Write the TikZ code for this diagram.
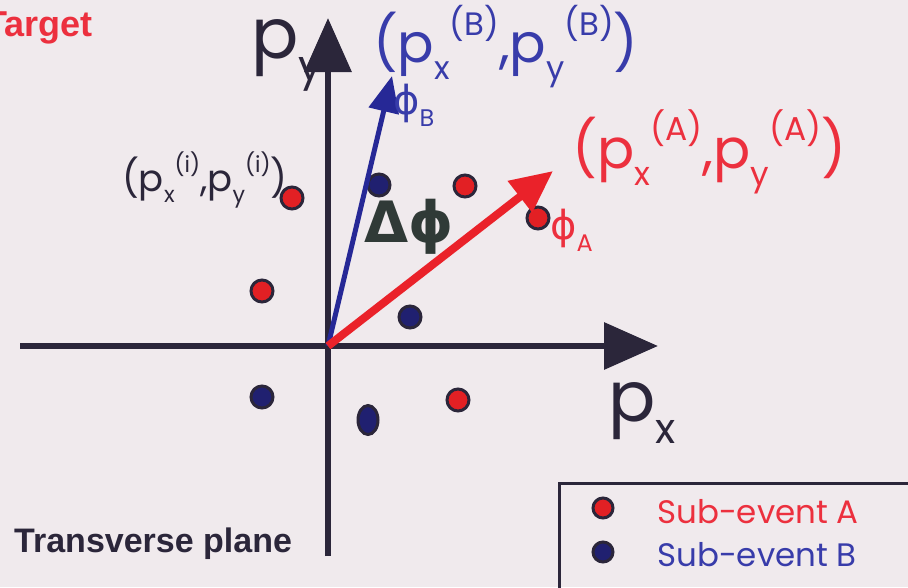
\documentclass[tikz,border=0pt]{standalone}
\usepackage{fontspec}
\setmainfont{Poppins}
\newfontfamily\grk{DejaVu Sans}
\newfontfamily\helv{Liberation Sans}
\usetikzlibrary{arrows.meta,shapes.geometric}
\definecolor{bg}{RGB}{240,234,237}
\definecolor{ink}{RGB}{43,38,58}
\definecolor{rd}{RGB}{234,34,42}
\definecolor{rdtxt}{RGB}{236,48,62}
\definecolor{bl}{RGB}{38,40,150}
\definecolor{bltxt}{RGB}{56,60,170}
\definecolor{dkgreen}{RGB}{48,58,55}
\definecolor{dotred}{RGB}{226,32,36}
\definecolor{dotblue}{RGB}{32,32,112}
\newcommand\lo[1]{\raisebox{-0.32em}{\scalebox{0.6}{#1}}}
\newcommand\hi[1]{\raisebox{0.5em}{\scalebox{0.6}{#1}}}
\tikzset{
  axis/.style={ink, line width=6.5pt, -{Triangle[length=54pt,width=46pt]}},
  dotA/.style={circle, fill=dotred, draw=ink, line width=3pt, minimum size=22pt, inner sep=0pt},
  dotB/.style={circle, fill=dotblue, draw=ink, line width=3pt, minimum size=22pt, inner sep=0pt},
  lbl/.style={inner sep=0pt, anchor=base west},
}
\begin{document}
\begin{tikzpicture}[x=1pt,y=-1pt]
\path[use as bounding box, fill=bg] (0,0) rectangle (908,587);
\clip (0,0) rectangle (908,587);
% axes
\coordinate (O) at (328,346);
\coordinate (xL) at (20,346);
\coordinate (xR) at (658,346);
\coordinate (yB) at (328,556);
\coordinate (yT) at (328,18);
\coordinate (Atip) at (553,171);
\coordinate (Btip) at (392,76);
\draw[axis] (xL) -- (xR);
\draw[axis] (yB) -- (yT);
% dots
\node[dotA] (a1) at (292,198) {};
\node[dotA] (a2) at (465,186) {};
\node[dotA] (a3) at (538,218) {};
\node[dotA] (a4) at (262,291) {};
\node[dotA] (a5) at (458,400) {};
\node[dotB] (b1) at (379,185) {};
\node[dotB] (b2) at (410,317) {};
\node[dotB] (b3) at (262,397) {};
\node[dotB, ellipse, minimum width=20pt, minimum height=29pt] (b4) at (368,420) {};
% vectors
\draw[bl, line width=5pt, -{Triangle[length=36pt,width=30pt]}] (O) -- (Btip);
\draw[rd, line width=8pt, -{Triangle[length=42pt,width=38pt]}] (O) -- (Atip);
% labels
\node[lbl, ink, font=\fontsize{70}{80}\selectfont] (py) at (251,58) {p\lo{y}};
\node[lbl, ink, font=\fontsize{70}{80}\selectfont] (px) at (608,421) {p\lo{x}};
\node[lbl, bltxt, font=\fontsize{54}{64}\selectfont] (labB) at (373,62) {(p\lo{x}\hi{(B)},p\lo{y}\hi{(B)})};
\node[lbl, rdtxt, font=\fontsize{55}{64}\selectfont] (labA) at (572,168) {(p\lo{x}\hi{(A)},p\lo{y}\hi{(A)})};
\node[lbl, ink, font=\fontsize{37}{44}\selectfont] (labi) at (122,191) {(p\lo{x}\hi{(i)},p\lo{y}\hi{(i)})};
\node[lbl, bltxt, font=\fontsize{40}{48}\selectfont] (phiB) at (393,114) {{\grk ϕ}\lo{B}};
\node[lbl, rdtxt, font=\fontsize{40}{48}\selectfont] (phiA) at (550,239) {{\grk ϕ}\lo{A}};
\node[lbl, dkgreen, font=\grk\bfseries\fontsize{57}{64}\selectfont] (dphi) at (364,242) {Δϕ};
\node[inner sep=0pt, anchor=base east, rdtxt, font=\helv\bfseries\fontsize{36}{42}\selectfont] (tgt) at (93,36) {Target};
\node[lbl, ink, font=\helv\bfseries\fontsize{34}{40}\selectfont] (tp) at (14,552) {Transverse plane};
% legend
\draw[ink, line width=3pt] (559,483) rectangle (930,620);
\node[dotA, minimum size=20pt] (la) at (603,508) {};
\node[dotB, minimum size=20pt] (lb) at (603,552) {};
\node[lbl, rdtxt, font=\fontsize{32.5}{38}\selectfont] (ta) at (657,523) {Sub-event A};
\node[lbl, bltxt, font=\fontsize{32.5}{38}\selectfont] (tb) at (657,566) {Sub-event B};
\end{tikzpicture}
\end{document}
